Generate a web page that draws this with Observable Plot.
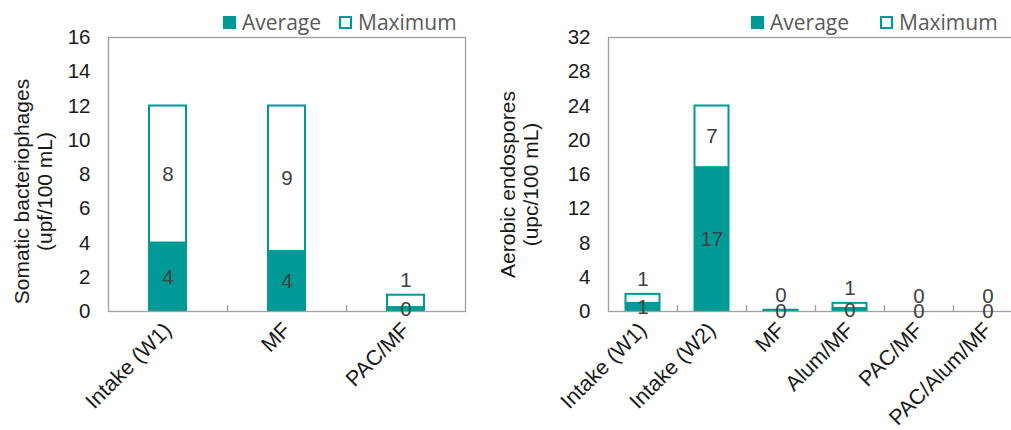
<!DOCTYPE html>
<html><head><meta charset="utf-8">
<script src="https://cdn.jsdelivr.net/npm/d3@7"></script>
<script src="https://cdn.jsdelivr.net/npm/@observablehq/plot@0.6"></script>
<style>
body{margin:0;background:#fff;overflow:hidden}
#wrap{position:relative;width:1011px;height:430px;overflow:hidden;background:#fff}
.panel{position:absolute;top:0;height:430px;overflow:visible}
.litem{position:absolute;top:8px;height:28px;display:flex;align-items:center;font-family:"Open Sans","Noto Sans",sans-serif;font-size:21px;color:#595959;white-space:nowrap}
.sw{width:13px;height:13px;margin-right:6px;box-sizing:border-box}
.holder{position:absolute;top:30px;left:0}
</style></head><body>
<div id="wrap"></div>
<script>
// ---- data ----
const seriesNames = ["Average", "Maximum"];
const phageCategories = ["Intake (W1)", "MF", "PAC/MF"];
const phageAverage = [4.0, 3.5, 0.23];
const phageMaximum = [12, 12, 0.95];
const phageTicks = [0, 2, 4, 6, 8, 10, 12, 14, 16];
const phageTitle = "Somatic bacteriophages\n(upf/100 mL)";

const sporeCategories = ["Intake (W1)", "Intake (W2)", "MF", "Alum/MF", "PAC/MF", "PAC/Alum/MF"];
const sporeAverage = [0.95, 16.8, 0.1, 0.35, 0, 0];
const sporeMaximum = [2, 24, 0.15, 0.95, 0, 0];
const sporeTicks = [0, 4, 8, 12, 16, 20, 24, 28, 32];
const sporeTitle = "Aerobic endospores\n(upc/100 mL)";

// ---- drawing ----
const teal = "#009a96";
const gridGray = "#a0a0a0";
const H = 400, MT = 7, MB = 119;

function makeChart({cats, avg, max, ticks, width, marginLeft, marginRight, inset, title, titleDx, titleDy}) {
  const yMax = ticks[ticks.length - 1];
  const rows = cats.map((c, i) => ({cat: c, avg: avg[i], max: max[i]}));
  const bw = (width - marginLeft - marginRight) / cats.length;
  const plotH = H - MT - MB;
  const u = yMax / plotH; // units per pixel
  const bigExcess = rows.filter(d => (d.max - d.avg) / u > 30);
  const smallExcess = rows.filter(d => (d.max - d.avg) / u <= 30);
  return Plot.plot({
    width, height: H, marginLeft, marginRight, marginTop: MT, marginBottom: MB,
    style: {fontFamily: '"Liberation Sans", Arial, sans-serif', fontSize: "20px", color: "#1a1a1a", background: "transparent", overflow: "visible", maxWidth: "none"},
    x: {type: "band", domain: cats, padding: 0, axis: null},
    y: {domain: [0, yMax], axis: null},
    marks: [
      Plot.barY(rows.filter(d => d.avg > 0), {x: "cat", y1: 0, y2: "avg", fill: teal, insetLeft: inset, insetRight: inset}),
      Plot.barY(rows.filter(d => d.max > d.avg), {x: "cat", y1: "avg", y2: "max", fill: "white", stroke: teal, strokeWidth: 2, insetLeft: inset + 1, insetRight: inset + 1}),
      Plot.frame({stroke: gridGray, strokeWidth: 1.3}),
      Plot.ruleX(cats.slice(1), {x: d => d, dx: -bw / 2, y1: 0, y2: 6 * u, stroke: gridGray, strokeWidth: 1.3}),
      Plot.axisY({ticks, tickSize: 0, tickPadding: 18, fontSize: 20.5, label: null}),
      Plot.axisX({tickRotate: -45, tickSize: 0, tickPadding: 15, fontSize: 21.5, label: null}),
      Plot.text(rows, {x: "cat", y: d => d.avg / 2, text: d => String(Math.round(d.avg)), fill: "#404040", fontSize: 20.5}),
      Plot.text(bigExcess, {x: "cat", y: d => (d.avg + d.max) / 2, text: d => String(Math.round(d.max - d.avg)), fill: "#404040", fontSize: 20.5}),
      Plot.text(smallExcess, {x: "cat", y: "max", dy: -15, text: d => String(Math.round(d.max - d.avg)), fill: "#404040", fontSize: 20.5}),
      Plot.text([title], {frameAnchor: "left", textAnchor: "middle", lineAnchor: "middle", text: d => d, rotate: -90, dx: titleDx, dy: titleDy, fontSize: 21, lineHeight: 1.1, fill: "#1a1a1a"})
    ]
  });
}

function legendItem(left, filled, name) {
  const div = document.createElement("div");
  div.className = "litem";
  div.style.left = left + "px";
  const sw = filled
    ? `<div class="sw" style="background:${teal}"></div>`
    : `<div class="sw" style="border:2px solid ${teal};background:#fff"></div>`;
  div.innerHTML = sw + `<span>${name}</span>`;
  return div;
}

function panel(left, width, legendLefts, chart) {
  const p = document.createElement("div");
  p.className = "panel";
  p.style.left = left + "px";
  p.style.width = width + "px";
  const h = document.createElement("div");
  h.className = "holder";
  h.appendChild(chart);
  p.appendChild(h);
  p.appendChild(legendItem(legendLefts[0], true, seriesNames[0]));
  p.appendChild(legendItem(legendLefts[1], false, seriesNames[1]));
  return p;
}

const wrap = document.getElementById("wrap");
wrap.appendChild(panel(0, 505, [223, 339], makeChart({
  cats: phageCategories, avg: phageAverage, max: phageMaximum, ticks: phageTicks,
  width: 505, marginLeft: 108, marginRight: 40, inset: 40,
  title: phageTitle, titleDx: -75, titleDy: 17
})));
wrap.appendChild(panel(505, 517, [246, 375], makeChart({
  cats: sporeCategories, avg: sporeAverage, max: sporeMaximum, ticks: sporeTicks,
  width: 517, marginLeft: 103, marginRight: 0, inset: 16.5,
  title: sporeTitle, titleDx: -89, titleDy: 10
})));
</script>
</body></html>
